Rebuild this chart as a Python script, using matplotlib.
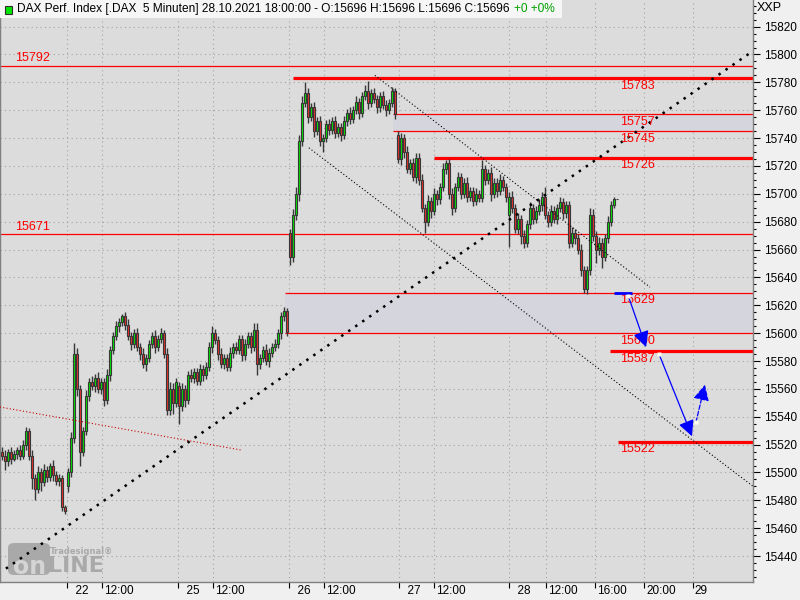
import matplotlib
matplotlib.use('Agg')
import numpy as np
import matplotlib.pyplot as plt
import matplotlib.transforms as mtransforms
from matplotlib.patches import Rectangle, FancyBboxPatch

FONT = ['Liberation Sans Narrow', 'Liberation Sans', 'DejaVu Sans']
plt.rcParams['font.family'] = FONT
FS = 8.5

# --- price data (5 min DAX, sampled), one list per trading day segment ---
day_labels = ['21', '22', '25', '26', '27', '28']
day_len = [22, 37, 37, 36, 37, 37]
day_open = [15515, 15490, 15562, 15672, 15742, 15685]

closes = [
    # 21.10
    15512, 15508, 15515, 15510, 15513, 15516, 15512, 15520, 15530, 15512, 15496,
    15488, 15500, 15493, 15502, 15497, 15505, 15498, 15494, 15496, 15475, 15472,
    # 22.10
    15500, 15525, 15585, 15560, 15515, 15530, 15555, 15565, 15562, 15568, 15560,
    15565, 15552, 15570, 15588, 15598, 15605, 15608, 15612, 15606, 15598, 15592,
    15600, 15590, 15585, 15578, 15582, 15592, 15598, 15590, 15596, 15600, 15585,
    15545, 15560, 15550, 15565,
    # 25.10
    15548, 15560, 15552, 15570, 15568, 15572, 15566, 15574, 15570, 15576, 15590,
    15600, 15595, 15585, 15578, 15582, 15576, 15586, 15590, 15588, 15596, 15584,
    15592, 15598, 15590, 15602, 15578, 15582, 15588, 15580, 15586, 15590, 15592,
    15600, 15612, 15616, 15601,
    # 26.10
    15655, 15685, 15700, 15738, 15765, 15772, 15755, 15762, 15745, 15752, 15738,
    15740, 15750, 15746, 15752, 15744, 15748, 15742, 15752, 15758, 15754, 15760,
    15766, 15758, 15770, 15774, 15765, 15772, 15768, 15762, 15770, 15764, 15760,
    15765, 15774, 15757,
    # 27.10
    15725, 15740, 15730, 15718, 15722, 15712, 15726, 15710, 15690, 15680, 15695,
    15688, 15700, 15696, 15705, 15718, 15722, 15700, 15690, 15705, 15712, 15700,
    15708, 15698, 15702, 15695, 15700, 15697, 15718, 15710, 15715, 15700, 15708,
    15702, 15710, 15705, 15698,
    # 28.10
    15698, 15690, 15675, 15682, 15670, 15665, 15678, 15690, 15682, 15688, 15692,
    15698, 15685, 15680, 15688, 15682, 15690, 15694, 15686, 15692, 15665, 15672,
    15668, 15660, 15645, 15632, 15645, 15685, 15670, 15660, 15665, 15655, 15668,
    15680, 15692, 15696, 15696,
]
wick_up = [
    3, 4, 2, 3, 3, 2, 4, 3, 3, 2, 4, 3, 5, 3, 4, 3, 2, 4, 3, 3, 2, 2,
    3, 4, 8, 4, 3, 3, 4, 3, 4, 3, 4, 3, 3, 4, 3, 3, 4, 3, 2, 3, 4, 3, 3, 4, 3, 4,
    3, 3, 3, 4, 3, 4, 2, 4, 5, 4, 3,
    3, 4, 3, 3, 4, 3, 3, 4, 3, 3, 4, 5, 3, 3, 4, 3, 3, 4, 3, 4, 3, 3, 4, 3, 3, 5,
    5, 3, 3, 4, 3, 3, 4, 3, 3, 3, 2,
    3, 4, 5, 4, 5, 8, 4, 3, 4, 3, 4, 3, 3, 4, 3, 4, 3, 3, 4, 3, 4, 3, 4, 3, 3, 4,
    7, 3, 4, 3, 3, 4, 3, 3, 3, 2,
    3, 4, 3, 4, 3, 4, 3, 3, 4, 3, 4, 3, 4, 3, 3, 4, 2, 3, 4, 3, 4, 3, 3, 4, 3, 3,
    4, 3, 6, 3, 3, 4, 3, 3, 4, 3, 3,
    3, 4, 3, 4, 3, 4, 3, 4, 3, 3, 4, 3, 7, 3, 4, 3, 3, 4, 3, 3, 3, 4, 3, 3, 4, 3,
    3, 5, 4, 3, 4, 3, 3, 4, 3, 2, 0,
]
wick_dn = [
    3, 6, 3, 4, 2, 3, 3, 2, 4, 3, 8, 8, 3, 6, 3, 4, 3, 4, 3, 4, 3, 2,
    4, 3, 4, 5, 10, 3, 3, 4, 3, 4, 3, 4, 4, 3, 4, 3, 3, 4, 3, 4, 3, 4, 3, 3, 4, 3,
    5, 3, 3, 4, 3, 3, 3, 4, 4, 8, 3,
    13, 4, 5, 3, 3, 4, 3, 3, 4, 3, 3, 4, 3, 4, 3, 4, 3, 3, 4, 3, 3, 4, 3, 3, 4, 3,
    8, 4, 3, 3, 4, 3, 3, 3, 4, 3, 3,
    6, 4, 4, 5, 4, 3, 4, 3, 4, 3, 4, 8, 3, 4, 3, 4, 3, 4, 3, 3, 4, 3, 3, 4, 3, 3,
    4, 3, 3, 4, 3, 3, 4, 3, 3, 3,
    3, 4, 4, 3, 4, 3, 4, 4, 3, 8, 3, 5, 3, 4, 3, 3, 4, 4, 5, 3, 3, 4, 3, 4, 3, 4,
    3, 3, 3, 4, 3, 5, 3, 4, 3, 3, 4,
    23, 4, 3, 4, 6, 4, 3, 3, 4, 3, 3, 4, 3, 4, 3, 3, 4, 3, 4, 3, 4, 3, 4, 3, 4, 3,
    4, 3, 4, 10, 4, 8, 3, 3, 3, 2, 0,
]

# support / resistance levels (bar index where the line starts)
levels = [15792, 15783, 15757, 15745, 15726, 15671, 15629, 15600, 15587, 15522]
level_from = [-1, 97, 130.3, 130.3, 144, -1, 94.3, 94.3, 202.7, 205.3]
level_thick = [False, True, False, False, True, False, False, False, True, True]

# shaded gaps
gap_lo = [15600, 15745]
gap_hi = [15629, 15757]
gap_from = [94.3, 130.3]

# trend lines: (bar, price) anchors
trend_up = ([1.3, 249.3], [15431, 15801])
trend_down = ([124.3, 216.0], [15785, 15633])
channel_low = ([102.3, 251.0], [15733, 15489])
old_trend = ([-0.7, 80.0], [15547, 15516])

# projected path (blue arrows)
arrow_from = [(208.7, 15627), (219.0, 15585), (231.3, 15536)]
arrow_to = [(214.7, 15590), (230.0, 15526), (234.3, 15563)]

xtick_bars = [21.7, 33.3, 58.7, 70.3, 95.7, 107.3, 132.3, 144, 169, 181.3, 197.7, 214, 230.3]
xtick_labels = ['  22', '12:00', '  25', '12:00', '  26', '12:00', '  27', '12:00',
                '  28', '12:00', '16:00', '20:00', '29']

# --- build OHLC ---
opens, highs, lows = [], [], []
i = 0
for d, n in enumerate(day_len):
    for k in range(n):
        o = day_open[d] if k == 0 else closes[i - 1]
        c = closes[i]
        opens.append(o)
        highs.append(max(o, c) + wick_up[i])
        lows.append(min(o, c) - wick_dn[i])
        i += 1
opens = np.array(opens, dtype=float)
closes_a = np.array(closes, dtype=float)
xs = np.arange(len(closes))

fig = plt.figure(figsize=(8, 6), dpi=100, facecolor='#f0f0f0')
ax = fig.add_axes([0.0, 18 / 600, 753 / 800, 582 / 600], facecolor='#dcdcdc')
ax.set_xlim(-0.67, 250.33)
ax.set_ylim(15421.4, 15839.1)

# grid
ax.set_yticks(np.arange(15440, 15821, 20))
ax.set_yticks(np.arange(15425, 15840, 5), minor=True)
ax.set_xticks(xtick_bars, xtick_labels)
ax.grid(True, which='major', color='#a4a4a4', linestyle=(0, (1, 3)), linewidth=0.8, zorder=0)
ax.set_axisbelow(True)

# shaded gaps
for lo, hi, x0 in zip(gap_lo, gap_hi, gap_from):
    ax.add_patch(Rectangle((x0, lo), 260 - x0, hi - lo, facecolor='#d5d5de',
                           edgecolor='none', zorder=1))

# red level lines and labels
for lv, x0, thick in zip(levels, level_from, level_thick):
    ax.hlines(lv, x0, 260, color='#ff0000', linewidth=2.3 if thick else 0.9, zorder=2)
    if x0 < 0:
        ax.annotate(str(lv), (4.3, lv), xytext=(0, 1), textcoords='offset points',
                    color='#ff0000', fontsize=FS + 0.5, va='bottom', ha='left', zorder=6)
    else:
        ax.annotate(str(lv), (206, lv), xytext=(0, -1), textcoords='offset points',
                    color='#ff0000', fontsize=FS + 0.5, va='top', ha='left', zorder=6)

# candles
up = closes_a >= opens
body_lo = np.minimum(opens, closes_a)
body_h = np.maximum(np.abs(closes_a - opens), 0.6)
ax.vlines(xs, lows, highs, color='#383838', linewidth=1.0, zorder=3)
ax.bar(xs, body_h, bottom=body_lo, width=0.75,
       color=np.where(up, '#00e600', '#e83030'), edgecolor='#383838',
       linewidth=0.8, zorder=4)

# trend lines
ax.plot(*trend_up, color='black', linewidth=1.8, linestyle=(0, (1, 2.4)),
        dash_capstyle='butt', zorder=5)
ax.plot(*trend_down, color='black', linewidth=0.8, linestyle=(0, (1, 2)), zorder=5)
ax.plot(*channel_low, color='black', linewidth=0.8, linestyle=(0, (1, 2)), zorder=5)
ax.plot(*old_trend, color='#c80000', linewidth=0.8, linestyle=(0, (1, 2)), zorder=5)

# projected path
ax.hlines(arrow_from[0][1] + 1.5, 204, 210, color='#0000ff', linewidth=2.0, zorder=6)
for k, (a, b) in enumerate(zip(arrow_from, arrow_to)):
    ax.annotate('', xy=b, xytext=a,
                arrowprops=dict(arrowstyle='-|>,head_length=0.6,head_width=0.3',
                                color='#0000ff', lw=0.9,
                                mutation_scale=16, shrinkA=0, shrinkB=0,
                                linestyle='--' if k == 2 else '-'), zorder=6)
    ax.plot(a[0], a[1], marker='s', ms=3.5, color='#fffff0', mec='none', zorder=7)

# axes styling
ax.spines['top'].set_visible(False)
for s in ['left', 'right', 'bottom']:
    ax.spines[s].set_color('#808080')
    ax.spines[s].set_linewidth(1.0)
ax.yaxis.tick_right()
ax.tick_params(axis='y', which='major', length=5, width=0.8, pad=3, labelsize=FS,
               colors='black')
ax.tick_params(axis='y', which='minor', length=2, width=0.8, colors='black')
ax.tick_params(axis='x', length=4, width=0.8, pad=-1.5, labelsize=FS, colors='black')
offset = mtransforms.ScaledTranslation(2 / 100, 0, fig.dpi_scale_trans)
for lbl in ax.get_xticklabels():
    lbl.set_horizontalalignment('left')
    lbl.set_transform(lbl.get_transform() + offset)

# Tradesignal online watermark
ax.add_patch(FancyBboxPatch((8 / 800, 1 - 575 / 600), 42 / 800, 32 / 600,
                            boxstyle='round,pad=0,rounding_size=0.008',
                            transform=fig.transFigure, facecolor='#a9a9a9',
                            edgecolor='none', zorder=0.8))
ax.text(30 / 800, 1 - 567 / 600, 'on', transform=fig.transFigure, color='#d4d4d4',
        fontsize=17, fontweight='bold', ha='center', va='center', zorder=0.9,
        family='DejaVu Sans')
ax.text(48 / 800, 1 - 566 / 600, 'LINE', transform=fig.transFigure, color='#a9a9a9',
        fontsize=16, fontweight='bold', ha='left', va='center', zorder=0.9,
        family='DejaVu Sans')
ax.text(50 / 800, 1 - 551 / 600, 'Tradesignal\u00ae', transform=fig.transFigure,
        color='#a9a9a9', fontsize=6, fontweight='bold', ha='left', va='center',
        zorder=0.9, family='DejaVu Sans')

# header
fig.patches.append(Rectangle((0, 1 - 18 / 600), 562 / 800, 18 / 600,
                             transform=fig.transFigure, facecolor='#f6f6f6',
                             edgecolor='none', zorder=10))
fig.patches.append(Rectangle((5 / 800, 1 - 14 / 600), 7 / 800, 8 / 600,
                             transform=fig.transFigure, facecolor='#00e600',
                             edgecolor='#303030', linewidth=0.8, zorder=11))
head = fig.text(17 / 800, 1 - 9 / 600,
                'DAX Perf. Index [.DAX  5 Minuten] 28.10.2021 18:00:00 - '
                'O:15696 H:15696 L:15696 C:15696',
                fontsize=8.6, va='center', ha='left', color='black', zorder=12)
fig.canvas.draw()
bb = head.get_window_extent()
fig.text(bb.x1 / 800 + 5 / 800, 1 - 9 / 600, '+0 +0%', fontsize=8.6, va='center',
         ha='left', color='#00a000', zorder=12)
fig.text(757 / 800, 1 - 8 / 600, 'XXP', fontsize=9, va='center', ha='left')

fig.savefig('out.png', dpi=100, facecolor=fig.get_facecolor())
